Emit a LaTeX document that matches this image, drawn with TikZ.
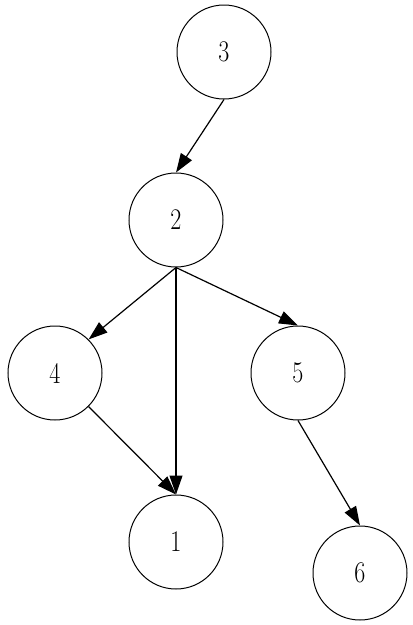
\documentclass[tikz,border=0pt]{standalone}
\usepackage{graphicx}
\usetikzlibrary{arrows.meta}
\newcommand{\lbl}[1]{\scalebox{0.8}[1]{\fontsize{30}{30}\selectfont #1}}
\begin{document}
\begin{tikzpicture}[x=1pt,y=-1pt,
  vert/.style={circle,draw,line width=1pt,minimum size=94pt,inner sep=0pt},
  edge/.style={line width=1.2pt,-{Triangle[length=19pt,width=13pt]}}]
\useasboundingbox (0,0) rectangle (413,625);
\node[vert] (n3) at (224,52) {\lbl{3}};
\node[vert] (n2) at (176,220) {\lbl{2}};
\node[vert] (n4) at (55,373) {\lbl{4}};
\node[vert] (n5) at (298,373) {\lbl{5}};
\node[vert] (n1) at (176,542) {\lbl{1}};
\node[vert] (n6) at (360,573) {\lbl{6}};
\draw[edge] (n3.south) -- (n2.north);
\draw[edge] (n2.south) -- (n4.45);
\draw[edge] (n2.south) -- (n1.north);
\draw[edge] (n2.south) -- (n5.north);
\draw[edge] (n4.-45) -- (n1.north);
\draw[edge] (n5.south) -- (n6.north);
\end{tikzpicture}
\end{document}
